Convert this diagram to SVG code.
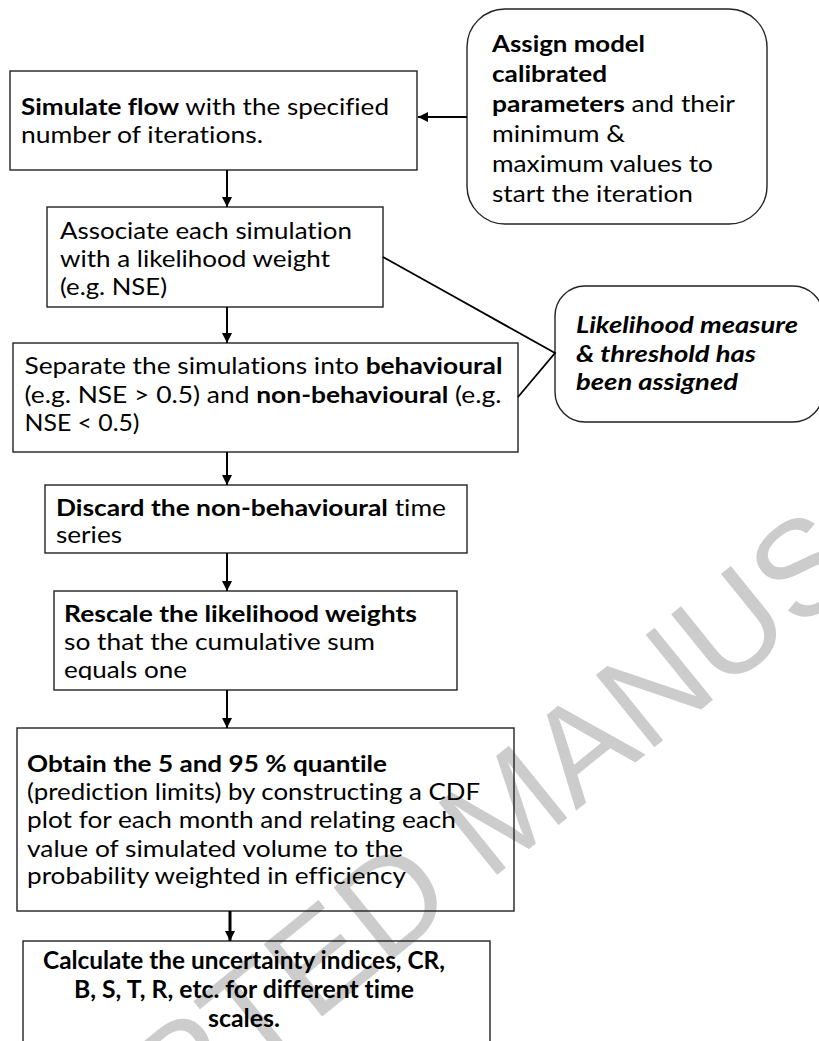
<svg xmlns="http://www.w3.org/2000/svg" width="819" height="1041" viewBox="0 0 819 1041">
<style>
.box{fill:none;stroke:#222;stroke-width:1.4}
.rbox{fill:none;stroke:#222;stroke-width:1.4}
.t{font-family:Lato,"Liberation Sans",sans-serif;font-size:22.5px;fill:#000;font-variant-ligatures:none}
.tc{font-family:Lato,"Liberation Sans",sans-serif;font-size:24px;font-weight:bold;fill:#000;font-variant-ligatures:none}
.ti{font-family:Lato,"Liberation Sans",sans-serif;font-size:22px;font-weight:bold;font-style:italic;fill:#000;font-variant-ligatures:none}
.b{font-weight:bold}
.wm{font-family:"Liberation Sans",Arial,sans-serif;font-size:135px;fill:#cccccc}
.c{fill:none;stroke:#000;stroke-width:2}
.cl{fill:none;stroke:#000;stroke-width:1.8}
</style>
<defs>
<marker id="ah" markerUnits="userSpaceOnUse" markerWidth="11" markerHeight="11" refX="10" refY="5" orient="auto"><path d="M0,0 L10,5 L0,10 z" fill="#000"/></marker>
<clipPath id="clipR"><rect x="54" y="591" width="403" height="89"/></clipPath>
</defs>
<rect width="819" height="1041" fill="#fff"/>
<g id="watermark"><text class="wm" transform="translate(-112,1368) rotate(-39)">ACCEPTED MANUSCRIPT</text></g>
<g id="n1"><rect class="box" x="10" y="71" width="407" height="99"/>
<text class="t" x="21" y="115" textLength="368" lengthAdjust="spacingAndGlyphs"><tspan class="b">Simulate flow</tspan> with the specified</text>
<text class="t" x="21" y="143" textLength="242" lengthAdjust="spacingAndGlyphs">number of iterations.</text></g>
<g id="n0"><rect class="rbox" x="467" y="9" width="300" height="215" rx="38"/>
<text class="t b" x="492" y="52" textLength="153" lengthAdjust="spacingAndGlyphs">Assign model</text>
<text class="t b" x="492" y="82" textLength="115" lengthAdjust="spacingAndGlyphs">calibrated</text>
<text class="t" x="492" y="112" textLength="243" lengthAdjust="spacingAndGlyphs"><tspan class="b">parameters</tspan> and their</text>
<text class="t" x="492" y="142" textLength="133" lengthAdjust="spacingAndGlyphs">minimum &amp;</text>
<text class="t" x="492" y="172" textLength="221" lengthAdjust="spacingAndGlyphs">maximum values to</text>
<text class="t" x="492" y="202" textLength="201" lengthAdjust="spacingAndGlyphs">start the iteration</text></g>
<g id="n2"><rect class="box" x="47" y="207" width="336" height="100"/>
<text class="t" x="60" y="239" textLength="292" lengthAdjust="spacingAndGlyphs">Associate each simulation</text>
<text class="t" x="60" y="267" textLength="270" lengthAdjust="spacingAndGlyphs">with a likelihood weight</text>
<text class="t" x="60" y="295" textLength="107" lengthAdjust="spacingAndGlyphs">(e.g. NSE)</text></g>
<g id="nL"><rect class="rbox" x="555" y="286" width="268" height="136" rx="30"/>
<text class="ti" x="576" y="333" textLength="222" lengthAdjust="spacingAndGlyphs">Likelihood measure</text>
<text class="ti" x="576" y="361.5" textLength="180" lengthAdjust="spacingAndGlyphs">&amp; threshold has</text>
<text class="ti" x="576" y="389.5" textLength="162" lengthAdjust="spacingAndGlyphs">been assigned</text></g>
<g id="n3"><rect class="box" x="13" y="343" width="505" height="109"/>
<text class="t" x="24.5" y="374" textLength="478" lengthAdjust="spacingAndGlyphs">Separate the simulations into <tspan class="b">behavioural</tspan></text>
<text class="t" x="24.5" y="402.5" textLength="477" lengthAdjust="spacingAndGlyphs">(e.g. NSE &gt; 0.5) and <tspan class="b">non-behavioural</tspan> (e.g.</text>
<text class="t" x="24.5" y="431" textLength="115" lengthAdjust="spacingAndGlyphs">NSE &lt; 0.5)</text></g>
<g id="n4"><rect class="box" x="45" y="485" width="422" height="68"/>
<text class="t" x="56" y="516" textLength="390" lengthAdjust="spacingAndGlyphs"><tspan class="b">Discard the non-behavioural</tspan> time</text>
<text class="t" x="56" y="543" textLength="66" lengthAdjust="spacingAndGlyphs">series</text></g>
<g id="n5"><rect class="box" x="54" y="591" width="403" height="99"/>
<g clip-path="url(#clipR)">
<text class="t b" x="64" y="622" textLength="353" lengthAdjust="spacingAndGlyphs">Rescale the likelihood weights</text>
<text class="t" x="64" y="650" textLength="311" lengthAdjust="spacingAndGlyphs">so that the cumulative sum</text>
<text class="t" x="64" y="678" textLength="123" lengthAdjust="spacingAndGlyphs">equals one</text></g></g>
<g id="n6"><rect class="box" x="17" y="728" width="497" height="183"/>
<text class="t b" x="27" y="772" textLength="360" lengthAdjust="spacingAndGlyphs">Obtain the 5 and 95 % quantile</text>
<text class="t" x="27" y="800" textLength="453" lengthAdjust="spacingAndGlyphs">(prediction limits) by constructing a CDF</text>
<text class="t" x="27" y="828" textLength="429" lengthAdjust="spacingAndGlyphs">plot for each month and relating each</text>
<text class="t" x="27" y="857" textLength="376" lengthAdjust="spacingAndGlyphs">value of simulated volume to the</text>
<text class="t" x="27" y="884" textLength="379" lengthAdjust="spacingAndGlyphs">probability weighted in efficiency</text></g>
<g id="n7"><rect class="box" x="23" y="941" width="467" height="110"/>
<text class="tc" x="244" y="969" text-anchor="middle" textLength="402" lengthAdjust="spacingAndGlyphs">Calculate the uncertainty indices, CR,</text>
<text class="tc" x="244" y="998" text-anchor="middle" textLength="340" lengthAdjust="spacingAndGlyphs">B, S, T, R, etc. for different time</text>
<text class="tc" x="244" y="1027" text-anchor="middle" textLength="72" lengthAdjust="spacingAndGlyphs">scales.</text></g>
<g id="connectors">
<line class="c" x1="467" y1="117" x2="418" y2="117" marker-end="url(#ah)"/>
<line class="c" x1="227" y1="170" x2="227" y2="207" marker-end="url(#ah)"/>
<line class="c" x1="227" y1="307" x2="227" y2="343" marker-end="url(#ah)"/>
<line class="c" x1="227" y1="452" x2="227" y2="485" marker-end="url(#ah)"/>
<line class="c" x1="227" y1="553" x2="227" y2="591" marker-end="url(#ah)"/>
<line class="c" x1="227" y1="690" x2="227" y2="728" marker-end="url(#ah)"/>
<line class="c" style="stroke-width:3" x1="230" y1="911" x2="230" y2="941" marker-end="url(#ah)"/>
<polyline class="cl" points="383,257 453,296 555,353 518,397"/>
</g>
</svg>
